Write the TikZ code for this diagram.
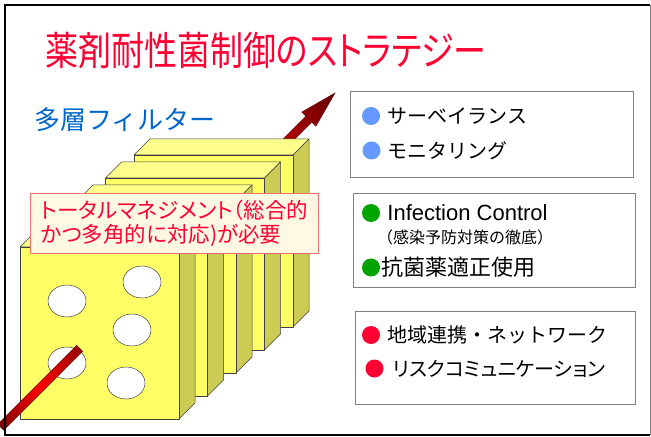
\documentclass[tikz,border=0pt]{standalone}
\usepackage{fontspec}
\setmainfont{Liberation Sans}
\newfontfamily\jp{Noto Sans CJK JP}
\newfontfamily\jpp[RawFeature=+palt]{Noto Sans CJK JP}
\usepackage{tikz}
\usetikzlibrary{positioning}
\definecolor{titlered}{HTML}{FF0033}
\definecolor{layerblue}{HTML}{0066CC}
\definecolor{platefront}{HTML}{FFFF66}
\definecolor{plateside}{HTML}{CCCC55}
\definecolor{platetop}{HTML}{FFFF8C}
\definecolor{notefill}{HTML}{FFF9E3}
\definecolor{noteline}{HTML}{FF6F6F}
\definecolor{dotblue}{HTML}{6699FF}
\definecolor{dotgreen}{HTML}{00A400}
\definecolor{dotred}{HTML}{FF0033}
\tikzset{
	plate/.style={draw=black!75, line width=.5bp, line join=round},
	listbox/.style={draw=black!50, line width=1bp, fill=white, anchor=north west, inner sep=0},
	bullet/.style={circle, inner sep=0, minimum size=18bp},
	item/.style={anchor=west, inner sep=0, font=\jp\fontsize{20bp}{20bp}\selectfont},
	shaft/.style={draw=red!35!black, line width=.4bp},
}

\begin{document}
\begin{tikzpicture}[x=1bp, y=-1bp]
	\useasboundingbox (0,0) rectangle (651,437);
	\fill[white] (0,0) rectangle (651,437);
	\node[anchor=west, inner sep=0, text=titlered, font=\jpp\fontsize{33bp}{33bp}\selectfont, yscale=1.2, transform shape] (title) at (45,51) {薬剤耐性菌制御のストラテジー};
	\node[anchor=west, inner sep=0, text=layerblue, font=\jp\fontsize{26bp}{26bp}\selectfont] (layers) at (34,120) {多層フィルター};
	\begin{scope}[transform canvas={shift={(5,423)}, rotate=45}]
		\shade[shaft, left color=red, right color=red!40!black]
			(330,-4.2) -- (429.7,-4.2) -- (429.7,-10) -- (466.7,0) -- (429.7,10) -- (429.7,4.2) -- (330,4.2) -- cycle;
	\end{scope}
	\foreach \k in {4,...,0} {
		\pgfmathsetmacro\px{20+28.5*\k}
		\pgfmathsetmacro\py{247-23*\k}
		\draw[plate, fill=platetop] (\px,\py) -- ++(16,-16) -- ++(159,0) -- ++(-16,16) -- cycle;
		\draw[plate, fill=plateside] (\px+159,\py) -- ++(16,-16) -- ++(0,172) -- ++(-16,16) -- cycle;
		\draw[plate, fill=platefront] (\px,\py) rectangle ++(159,172);
	}
	\foreach \hx/\hy in {67/301, 142/282, 132/330, 67/363, 126/383}
		\draw[plate, fill=white] (\hx,\hy) ellipse [x radius=19, y radius=16];
	\begin{scope}[transform canvas={shift={(5,423)}, rotate=45}]
		\shade[shaft, left color=red!50!black, right color=red!60!black, middle color=red]
			(-6,-4.2) rectangle (105.6,4.2);
	\end{scope}
	\node[draw=noteline, line width=1bp, fill=notefill, anchor=north west, minimum width=288bp, minimum height=60bp, inner sep=0, align=left, text=titlered, font=\jpp\fontsize{21.5bp}{24bp}\selectfont] (note) at (30,193) {トータルマネジメント（総合的\\かつ多角的に対応)が必要};

	\node[listbox, minimum width=283bp, minimum height=86bp] (watch) at (350,91) {};
	\node[bullet, fill=dotblue] (w1) at (371,116) {};
	\node[item, right=7bp of w1] (surv) {サーベイランス};
	\node[bullet, fill=dotblue] (w2) at (371.5,150.5) {};
	\node[item, right=7bp of w2] (moni) {モニタリング};

	\node[listbox, minimum width=282bp, minimum height=94bp] (control) at (353,193) {};
	\node[bullet, fill=dotgreen] (c1) at (371,213) {};
	\node[item, font=\fontsize{22bp}{22bp}\selectfont, right=7bp of c1] (infect) {Infection Control};
	\node[item, font=\jp\fontsize{16bp}{16bp}\selectfont] (prevent) at (377,237) {（感染予防対策の徹底）};
	\node[bullet, fill=dotgreen] (c2) at (371,267.5) {};
	\node[item, font=\jp\fontsize{22bp}{22bp}\selectfont, right=1bp of c2] (drug) {抗菌薬適正使用};

	\node[listbox, minimum width=280bp, minimum height=93bp] (network) at (355,311) {};
	\node[bullet, fill=dotred] (n1) at (371,335) {};
	\node[item, right=7bp of n1] (region) {地域連携・ネットワーク};
	\node[bullet, fill=dotred] (n2) at (374.5,368.5) {};
	\node[item, font=\jpp\fontsize{20bp}{20bp}\selectfont, right=9bp of n2] (risk) {リスクコミュニケーション};

	\draw[line width=2bp] (649.5,5) -- (4.5,5) -- (4.5,434.5) -- (649.5,434.5);
	\draw[black!50, line width=1bp] (650,5) -- (650,434.5);
\end{tikzpicture}
\end{document}
